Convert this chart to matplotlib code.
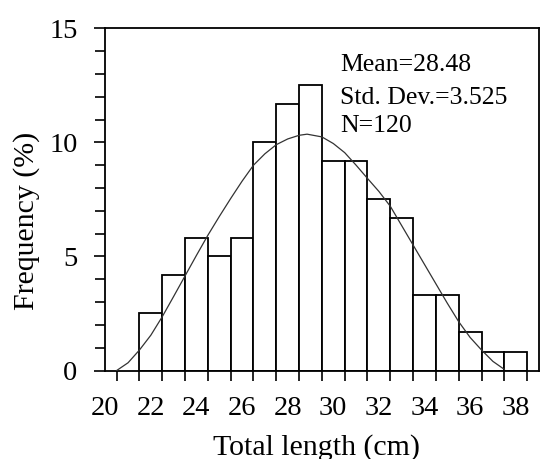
import matplotlib
matplotlib.use("Agg")
import matplotlib.pyplot as plt
from matplotlib.ticker import MultipleLocator, FixedLocator

plt.rcParams['font.family'] = ['Liberation Serif', 'DejaVu Serif']

# bins, centred on whole cm
length_cm = [22, 23, 24, 25, 26, 27, 28, 29, 30, 31, 32, 33, 34, 35, 36, 37, 38]
freq_pct = [2.5, 4.2, 5.8, 5.0, 5.8, 10.0, 11.7, 12.5, 9.2, 9.2,
            7.5, 6.7, 3.3, 3.3, 1.7, 0.8, 0.8]

# fitted curve
curve_x = [20.5, 21.0, 21.5, 22.0, 22.5, 23.0, 23.5, 24.0, 24.5, 25.0, 25.5,
           26.0, 26.5, 27.0, 27.5, 28.0, 28.5, 28.85, 29.5, 30.0, 30.5, 31.0,
           31.5, 32.0, 32.5, 33.0, 33.5, 34.0, 34.5, 35.0, 35.5, 36.0, 36.5,
           37.0, 37.5]
curve_y = [0.0, 0.34, 0.9, 1.55, 2.36, 3.25, 4.15, 5.05, 5.93, 6.75, 7.54,
           8.3, 9.0, 9.5, 9.9, 10.15, 10.31, 10.36, 10.24, 9.95, 9.55, 9.0,
           8.42, 7.85, 7.2, 6.35, 5.5, 4.65, 3.8, 2.95, 2.14, 1.45, 0.9,
           0.4, 0.05]

stats_lines = ['Mean=28.48', 'Std. Dev.=3.525', 'N=120']

fig = plt.figure(figsize=(5.41, 4.59), dpi=100)
ax = fig.add_axes([0.1946, 0.1928, 0.8008, 0.7455])

ax.bar(length_cm, freq_pct, width=1.0, color='white', edgecolor='black',
       linewidth=1.3, zorder=2)
ax.plot(curve_x, curve_y, color='#333333', linewidth=0.9, zorder=3)

ax.set_xlim(20, 39)
ax.set_ylim(0, 15)

# x: labels at even cm, tick marks on the bin edges
ax.xaxis.set_major_locator(MultipleLocator(2))
ax.xaxis.set_minor_locator(FixedLocator([20.5 + i for i in range(19)]))
ax.tick_params(axis='x', which='major', length=0, pad=18, labelsize=20.5)
ax.tick_params(axis='x', which='minor', length=7, width=1.2, direction='out')

ax.yaxis.set_major_locator(MultipleLocator(5))
ax.yaxis.set_minor_locator(MultipleLocator(1))
ax.tick_params(axis='y', which='major', length=8, width=1.2, pad=12, labelsize=20.5)
ax.tick_params(axis='y', which='minor', length=7.5, width=1.2)

for sp in ax.spines.values():
    sp.set_linewidth(1.3)

ax.set_xlabel('Total length (cm)', fontsize=21.5, va='baseline')
ax.xaxis.set_label_coords(0.487, -0.247)
ax.set_ylabel('Frequency (%)', fontsize=21.5, va='center')
ax.yaxis.set_label_coords(-0.181, 0.437)

for txt, yy in zip(stats_lines, [13.13, 11.70, 10.46]):
    ax.text(30.3, yy, txt, fontsize=18.5, va='baseline', ha='left', zorder=4)

fig.savefig('out.png', dpi=100)
